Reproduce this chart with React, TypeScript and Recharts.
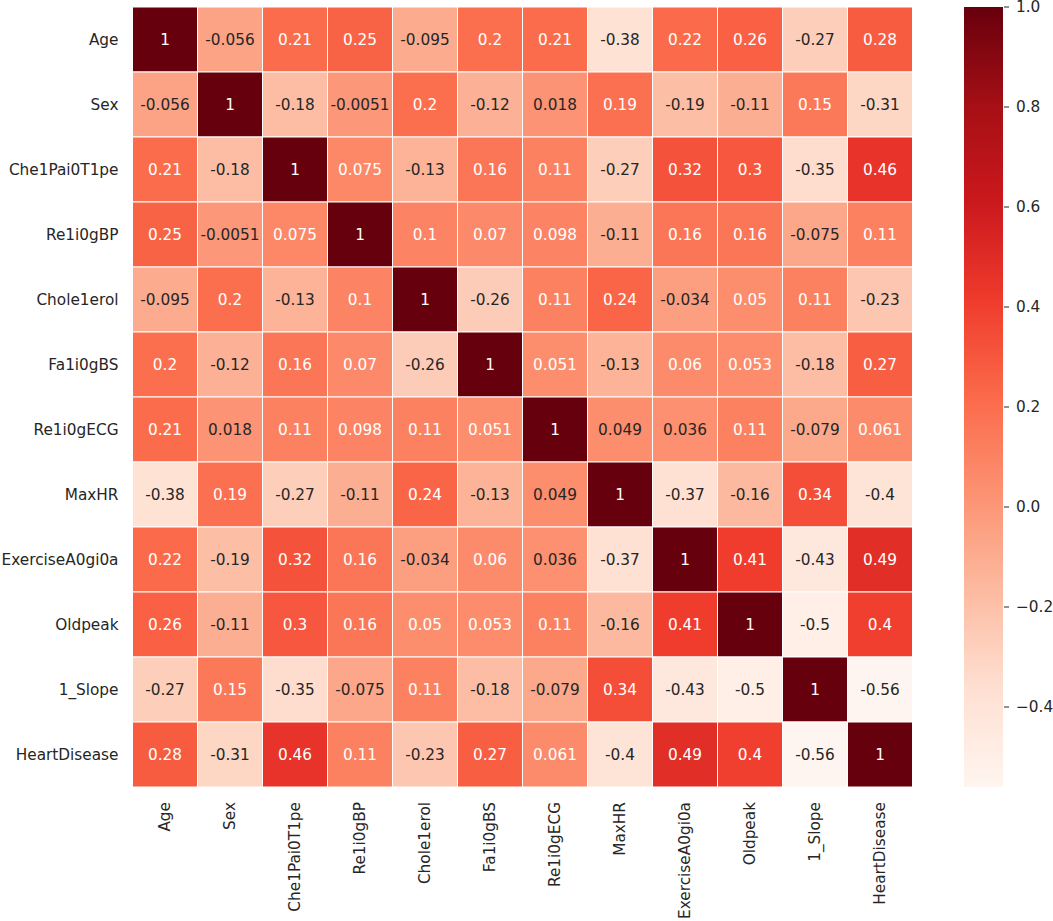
import React from "react";
import {
  ScatterChart,
  Scatter,
  BarChart,
  Bar,
  XAxis,
  YAxis,
  ReferenceArea,
} from "recharts";

const LABELS = [
  "Age",
  "Sex",
  "Che1Pai0T1pe",
  "Re1i0gBP",
  "Chole1erol",
  "Fa1i0gBS",
  "Re1i0gECG",
  "MaxHR",
  "ExerciseA0gi0a",
  "Oldpeak",
  "1_Slope",
  "HeartDisease",
];

// one row of the correlation matrix per variable
const AGE = [1, -0.056, 0.21, 0.25, -0.095, 0.2, 0.21, -0.38, 0.22, 0.26, -0.27, 0.28];
const SEX = [-0.056, 1, -0.18, -0.0051, 0.2, -0.12, 0.018, 0.19, -0.19, -0.11, 0.15, -0.31];
const CHEST = [0.21, -0.18, 1, 0.075, -0.13, 0.16, 0.11, -0.27, 0.32, 0.3, -0.35, 0.46];
const RESTBP = [0.25, -0.0051, 0.075, 1, 0.1, 0.07, 0.098, -0.11, 0.16, 0.16, -0.075, 0.11];
const CHOL = [-0.095, 0.2, -0.13, 0.1, 1, -0.26, 0.11, 0.24, -0.034, 0.05, 0.11, -0.23];
const FBS = [0.2, -0.12, 0.16, 0.07, -0.26, 1, 0.051, -0.13, 0.06, 0.053, -0.18, 0.27];
const ECG = [0.21, 0.018, 0.11, 0.098, 0.11, 0.051, 1, 0.049, 0.036, 0.11, -0.079, 0.061];
const MAXHR = [-0.38, 0.19, -0.27, -0.11, 0.24, -0.13, 0.049, 1, -0.37, -0.16, 0.34, -0.4];
const ANGINA = [0.22, -0.19, 0.32, 0.16, -0.034, 0.06, 0.036, -0.37, 1, 0.41, -0.43, 0.49];
const OLDPEAK = [0.26, -0.11, 0.3, 0.16, 0.05, 0.053, 0.11, -0.16, 0.41, 1, -0.5, 0.4];
const SLOPE = [-0.27, 0.15, -0.35, -0.075, 0.11, -0.18, -0.079, 0.34, -0.43, -0.5, 1, -0.56];
const HEART = [0.28, -0.31, 0.46, 0.11, -0.23, 0.27, 0.061, -0.4, 0.49, 0.4, -0.56, 1];

const CORR = [AGE, SEX, CHEST, RESTBP, CHOL, FBS, ECG, MAXHR, ANGINA, OLDPEAK, SLOPE, HEART];

const CBAR_TICKS = [-0.4, -0.2, 0, 0.2, 0.4, 0.6, 0.8, 1.0];

const VMIN = Math.min(...CORR.flat());
const VMAX = Math.max(...CORR.flat());

// matplotlib "Reds"
const REDS = [
  "#fff5f0", "#fee0d2", "#fcbba1", "#fc9272", "#fb6a4a",
  "#ef3b2c", "#cb181d", "#a50f15", "#67000d",
];

const FONT = "'DejaVu Sans', sans-serif";
const TEXT = "#262626";
const FS = 15.3;

const hexToRgb = (h: string) => [
  parseInt(h.slice(1, 3), 16) / 255,
  parseInt(h.slice(3, 5), 16) / 255,
  parseInt(h.slice(5, 7), 16) / 255,
];

const colorRgb = (v: number) => {
  let t = (v - VMIN) / (VMAX - VMIN);
  t = Math.max(0, Math.min(1, t));
  const p = t * (REDS.length - 1);
  const i = Math.min(Math.floor(p), REDS.length - 2);
  const f = p - i;
  const a = hexToRgb(REDS[i]);
  const b = hexToRgb(REDS[i + 1]);
  return a.map((c, k) => c + (b[k] - c) * f);
};

const toCss = (rgb: number[]) =>
  `rgb(${rgb.map((c) => Math.round(c * 255)).join(",")})`;

const luminance = (rgb: number[]) => {
  const lin = rgb.map((c) =>
    c <= 0.03928 ? c / 12.92 : Math.pow((c + 0.055) / 1.055, 2.4)
  );
  return 0.2126 * lin[0] + 0.7152 * lin[1] + 0.0722 * lin[2];
};

// like python's "{:.2g}"
const fmt = (v: number) => {
  let s = v.toPrecision(2);
  if (s.includes(".")) s = s.replace(/0+$/, "").replace(/\.$/, "");
  return s;
};

const cells = CORR.flatMap((row, i) =>
  row.map((v, j) => ({ x: j + 0.5, y: i + 0.5, v }))
);

const cbarData = [{ name: "cbar", range: [VMIN, VMAX] }];

const TICKS = LABELS.map((_, i) => i + 0.5);

const XTick = (props: any) => {
  const { x, y, payload } = props;
  return (
    <text
      x={x}
      y={y}
      transform={`rotate(-90, ${x}, ${y})`}
      textAnchor="end"
      dominantBaseline="central"
      fontSize={FS}
      fontFamily={FONT}
      fill={TEXT}
    >
      {LABELS[Math.floor(payload.value)]}
    </text>
  );
};

const YTick = (props: any) => {
  const { x, y, payload } = props;
  return (
    <text
      x={x}
      y={y}
      textAnchor="end"
      dominantBaseline="central"
      fontSize={FS}
      fontFamily={FONT}
      fill={TEXT}
    >
      {LABELS[Math.floor(payload.value)]}
    </text>
  );
};

const Annot = (props: any) => {
  const { cx, cy, payload } = props;
  const rgb = colorRgb(payload.v);
  const fill = luminance(rgb) > 0.408 ? TEXT : "#ffffff";
  return (
    <text
      x={cx}
      y={cy}
      textAnchor="middle"
      dominantBaseline="central"
      fontSize={FS}
      fontFamily={FONT}
      fill={fill}
    >
      {fmt(payload.v)}
    </text>
  );
};

const CbarShape = (props: any) => {
  const { x, y, width, height } = props;
  return (
    <g>
      <defs>
        <linearGradient id="redsBar" x1="0" y1="1" x2="0" y2="0">
          {REDS.map((c, i) => (
            <stop key={i} offset={i / (REDS.length - 1)} stopColor={c} />
          ))}
        </linearGradient>
      </defs>
      <rect x={x} y={y} width={width} height={height} fill="url(#redsBar)" />
    </g>
  );
};

const CbarTick = (props: any) => {
  const { x, y, payload } = props;
  const v = payload.value;
  const label = (v < 0 ? "\u2212" : "") + Math.abs(v).toFixed(1);
  return (
    <g>
      <line x1={x - 12} y1={y} x2={x - 7} y2={y} stroke={TEXT} strokeWidth={1} />
      <text
        x={x}
        y={y}
        textAnchor="start"
        dominantBaseline="central"
        fontSize={FS}
        fontFamily={FONT}
        fill={TEXT}
      >
        {label}
      </text>
    </g>
  );
};

export default function App() {
  return (
    <div
      style={{
        position: "relative",
        width: 1053,
        height: 921,
        background: "#fff",
        fontFamily: FONT,
      }}
    >
      <style>{"body{margin:0} svg{overflow:visible}"}</style>
      <div style={{ position: "absolute", left: 0, top: 0 }}>
        <ScatterChart
          width={920}
          height={921}
          margin={{ top: 7, right: 7.5, bottom: 0, left: 0 }}
        >
          <XAxis
            type="number"
            dataKey="x"
            domain={[0, 12]}
            ticks={TICKS}
            interval={0}
            allowDataOverflow
            axisLine={false}
            tickLine={false}
            tickSize={0}
            tickMargin={15}
            height={134}
            tick={<XTick />}
          />
          <YAxis
            type="number"
            dataKey="y"
            domain={[0, 12]}
            reversed
            ticks={TICKS}
            interval={0}
            allowDataOverflow
            axisLine={false}
            tickLine={false}
            tickSize={0}
            tickMargin={14}
            width={132.5}
            tick={<YTick />}
          />
          {cells.map((c, k) => (
            <ReferenceArea
              key={k}
              x1={c.x - 0.5}
              x2={c.x + 0.5}
              y1={c.y - 0.5}
              y2={c.y + 0.5}
              fill={toCss(colorRgb(c.v))}
              fillOpacity={1}
              stroke="#ffffff"
              strokeWidth={1}
            />
          ))}
          <Scatter data={cells} shape={<Annot />} isAnimationActive={false} />
        </ScatterChart>
      </div>
      <div style={{ position: "absolute", left: 950, top: 0 }}>
        <BarChart
          width={103}
          height={921}
          data={cbarData}
          barCategoryGap={0}
          margin={{ top: 7, right: 0, bottom: 134, left: 14 }}
          style={{ overflow: "visible" }}
        >
          <XAxis type="category" dataKey="name" hide />
          <YAxis
            type="number"
            orientation="right"
            domain={[VMIN, VMAX]}
            ticks={CBAR_TICKS}
            interval={0}
            allowDataOverflow
            axisLine={false}
            tickLine={false}
            tickSize={0}
            tickMargin={13}
            width={50}
            tick={<CbarTick />}
          />
          <Bar dataKey="range" shape={<CbarShape />} isAnimationActive={false} />
        </BarChart>
      </div>
    </div>
  );
}
